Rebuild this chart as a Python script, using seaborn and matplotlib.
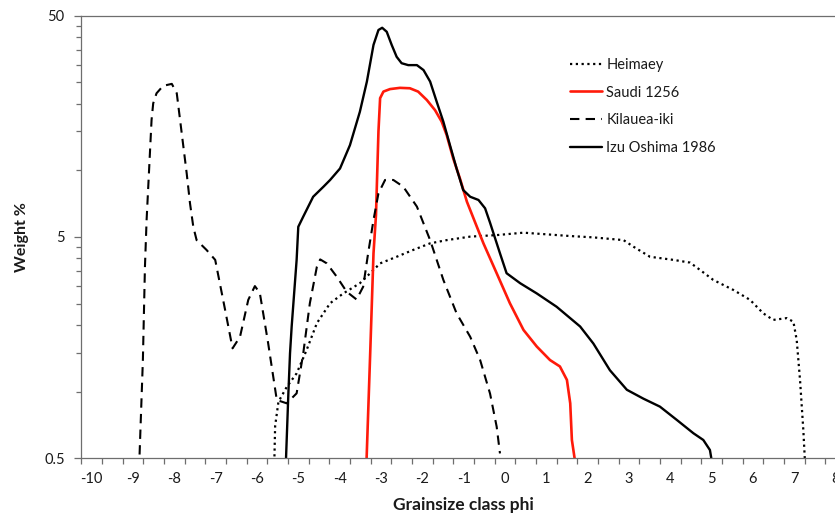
import numpy as np
import pandas as pd
import matplotlib
matplotlib.use("Agg")
import matplotlib.pyplot as plt
import seaborn as sns
from matplotlib.ticker import FixedLocator, FixedFormatter, NullFormatter

# ---- data ----
heimaey_phi = [-5.58, -5.56, -5.48, -5.28, -5.04, -4.80, -4.55, -4.23, -3.91, -3.51, -3.26, -3.02,
               -2.62, -2.22, -1.81, -1.41, -0.84, -0.20, 0.45, 1.01, 1.58, 2.14, 2.87, 3.11,
               3.51, 4.08, 4.48, 4.72, 5.04, 5.53, 5.93, 6.25, 6.49, 6.82, 6.98, 7.06, 7.14,
               7.22, 7.26]
heimaey_val = [0.48, 0.70, 0.90, 1.05, 1.21, 1.54, 2.04, 2.51, 2.78, 3.09, 3.43, 3.80,
               4.07, 4.37, 4.68, 4.84, 5.02, 5.10, 5.23, 5.14, 5.05, 4.98, 4.84, 4.52,
               4.07, 3.94, 3.83, 3.55, 3.20, 2.88, 2.60, 2.26, 2.11, 2.15, 2.07, 1.71, 1.13,
               0.67, 0.48]

saudi_phi = [-3.35, -3.26, -3.18, -3.12, -3.06, -3.02, -2.94, -2.78, -2.54, -2.30,
             -2.10, -1.89, -1.69, -1.53, -1.41, -1.25, -1.09, -0.92, -0.84, -0.52,
             -0.20, 0.12, 0.45, 0.77, 1.09, 1.33, 1.50, 1.58, 1.62, 1.70]
saudi_val = [0.48, 1.49, 4.22, 6.29, 15.0, 21.2, 22.7, 23.3, 23.6, 23.5,
             22.7, 20.8, 18.7, 16.6, 14.45, 11.3, 9.21, 7.22, 6.62, 4.68,
             3.43, 2.51, 1.90, 1.60, 1.39, 1.30, 1.13, 0.886, 0.605, 0.48]

kilauea_phi = [-8.84, -8.76, -8.71, -8.67, -8.63, -8.59, -8.55, -8.51, -8.43, -8.27,
               -8.06, -7.94, -7.86, -7.78, -7.70, -7.62, -7.54, -7.46, -7.22, -7.01,
               -6.77, -6.59, -6.41, -6.21, -6.05, -5.93, -5.73, -5.52, -5.28, -5.04,
               -4.88, -4.72, -4.55, -4.47, -4.31, -4.07, -3.83, -3.59, -3.43, -3.31,
               -3.18, -3.06, -2.90, -2.70, -2.46, -2.13, -1.81, -1.49, -1.17, -0.84,
               -0.60, -0.36, -0.20, -0.12]
kilauea_val = [0.52, 1.39, 3.67, 5.97, 8.44, 11.95, 16.9, 20.1, 22.3, 24.1,
               24.6, 22.3, 16.9, 12.8, 9.70, 7.10, 5.56, 4.84, 4.37, 3.94,
               2.34, 1.57, 1.77, 2.60, 3.00, 2.79, 1.66, 0.917, 0.886, 0.983,
               1.49, 2.51, 3.67, 3.96, 3.80, 3.31, 2.83, 2.61, 2.98, 4.22,
               5.97, 7.88, 9.05, 9.05, 8.44, 6.86, 4.84, 3.20, 2.26, 1.77,
               1.39, 0.98, 0.695, 0.526]

izu_phi = [-5.30, -5.24, -5.20, -5.16, -5.04, -5.00, -4.88, -4.64, -4.39, -4.23,
           -3.99, -3.75, -3.51, -3.34, -3.18, -3.06, -2.97, -2.86, -2.74, -2.62,
           -2.50, -2.34, -2.13, -1.97, -1.81, -1.65, -1.49, -1.33, -1.17, -1.01,
           -0.84, -0.64, -0.48, -0.36, -0.12, 0.04, 0.37, 0.77, 1.25, 1.82,
           2.14, 2.54, 2.95, 3.35, 3.75, 4.16, 4.56, 4.80, 4.96, 5.01]
izu_val = [0.48, 0.98, 1.49, 1.97, 3.94, 5.56, 6.18, 7.60, 8.44, 9.05,
           10.2, 13.0, 18.4, 25.2, 36.9, 43.1, 44.1, 42.3, 36.9, 32.6,
           30.5, 29.9, 29.9, 28.4, 25.2, 20.4, 16.6, 13.0, 10.2, 8.15,
           7.6, 7.35, 6.74, 5.8, 4.22, 3.43, 3.09, 2.78, 2.42, 1.97,
           1.65, 1.25, 1.02, 0.93, 0.856, 0.745, 0.649, 0.605, 0.545, 0.48]

series_names = ["Heimaey", "Saudi 1256", "Kilauea-iki", "Izu Oshima 1986"]
x_tick_values = list(range(-10, 9))
y_tick_values = [0.5, 5, 50]
y_tick_labels = ["0.5", "5", "50"]

# ---- styling ----
sns.set_style("white")
plt.rcParams["font.family"] = ["Lato", "DejaVu Sans"]
TXT = "#1a1a1a"
SPINE = "#6e6e6e"

W, H = 835, 515
fig = plt.figure(figsize=(W / 100, H / 100), dpi=100)
ax_left, ax_right = 81.3, 845.9
ax_top, ax_bot = 15.7, 458.3
ax = fig.add_axes([ax_left / W, (H - ax_bot) / H, (ax_right - ax_left) / W, (ax_bot - ax_top) / H])

styles = [
    dict(color="black", lw=1.6, linestyle=(0, (1, 1.6))),
    dict(color="#ff1a0a", lw=1.9, linestyle="-"),
    dict(color="black", lw=1.5, linestyle=(0, (4.5, 3))),
    dict(color="black", lw=1.7, linestyle="-"),
]
data = [(heimaey_phi, heimaey_val), (saudi_phi, saudi_val),
        (kilauea_phi, kilauea_val), (izu_phi, izu_val)]

for name, (px, pv), st in zip(series_names, data, styles):
    df = pd.DataFrame({"phi": px, "weight": pv})
    sns.lineplot(data=df, x="phi", y="weight", ax=ax, estimator=None, sort=False,
                 label=name, solid_joinstyle="round", dash_joinstyle="round", **st)

ax.set_yscale("log")
ax.set_ylim(0.5, 50)
ax.set_xlim(-10.25, 8.25)

ax.yaxis.set_major_locator(FixedLocator(y_tick_values))
ax.yaxis.set_major_formatter(FixedFormatter(y_tick_labels))
minor_y = [0.5 * k * 10 ** n for n in (0, 1) for k in range(2, 10)]
ax.yaxis.set_minor_locator(FixedLocator(minor_y))
ax.yaxis.set_minor_formatter(NullFormatter())

ax.xaxis.set_major_locator(FixedLocator(x_tick_values))
ax.xaxis.set_major_formatter(FixedFormatter([str(v) for v in x_tick_values]))
ax.xaxis.set_minor_locator(FixedLocator(np.arange(-10.25, 8.3, 0.5)))

ax.tick_params(axis="x", which="major", length=0, pad=10, labelsize=10.5, labelcolor=TXT)
ax.tick_params(axis="x", which="minor", length=4.5, width=0.9, color=SPINE, direction="out")
ax.tick_params(axis="y", which="major", length=5, width=0.9, color=SPINE, direction="out",
               pad=7, labelsize=10.5, labelcolor=TXT)
ax.tick_params(axis="y", which="minor", length=3.5, width=0.9, color=SPINE, direction="out")
ax.tick_params(bottom=True, left=True, which="both")

for sp in ax.spines.values():
    sp.set_color(SPINE)
    sp.set_linewidth(0.9)
    sp.set_visible(True)

ax.set_xlabel("Grainsize class phi", fontsize=12.5, fontweight="bold", color=TXT)
ax.set_ylabel("Weight %", fontsize=11.5, fontweight="bold", color=TXT)
ax.xaxis.set_label_coords(0.5, -0.088)
ax.yaxis.set_label_coords(-0.069, 0.5)

leg = ax.legend(loc="upper left", bbox_to_anchor=(0.639, 0.905), frameon=False,
                fontsize=10.5, handlelength=2.2, handletextpad=0.3, labelspacing=0.95,
                borderpad=0, borderaxespad=0)
for t in leg.get_texts():
    t.set_color(TXT)

fig.savefig("out.png", dpi=100)
